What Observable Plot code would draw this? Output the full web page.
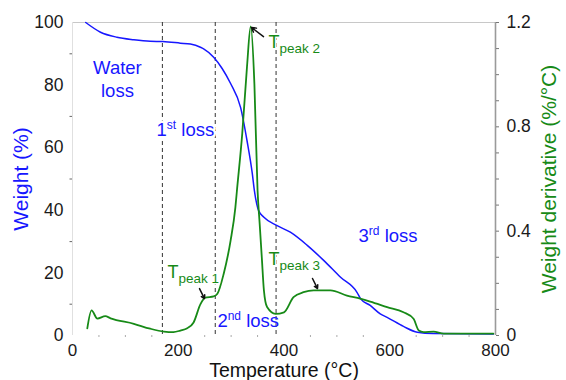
<!DOCTYPE html>
<html>
<head>
<meta charset="utf-8">
<script src="https://cdn.jsdelivr.net/npm/d3@7"></script>
<script src="https://cdn.jsdelivr.net/npm/@observablehq/plot@0.6"></script>
<style>
  html, body { margin: 0; padding: 0; background: #fff; }
</style>
</head>
<body>
<div id="chart"></div>
<script>
// ---- Data (temperature in °C) ----
const weightT   = [25, 53, 84, 116, 147, 171, 204, 223, 242, 248, 267, 283, 299, 318, 330, 340, 344, 352, 362, 387, 412, 444, 475, 507, 538, 545, 563, 582, 595, 626, 652, 682, 796];
const weightPct = [100, 96.9, 95.3, 94.5, 94.0, 93.9, 93.4, 93.1, 92.1, 91.6, 88.9, 85.3, 80.5, 72.8, 62.3, 51.8, 46.3, 39.9, 37.8, 35.1, 33.0, 28.8, 24.0, 18.6, 13.8, 11.7, 9.6, 6.9, 5.8, 2.9, 1.05, 0.6, 0.5];

const derivT   = [28, 36, 47, 62, 72, 116, 147, 173, 191, 204, 217, 229, 242, 251, 267, 274, 286, 299, 308, 311, 321, 330, 337, 344, 350, 354, 358, 362, 368, 384, 400, 418, 437, 456, 488, 519, 544, 563, 595, 626, 645, 655, 664, 683, 702, 796];
const derivVal = [0.027, 0.096, 0.065, 0.074, 0.066, 0.045, 0.026, 0.015, 0.013, 0.019, 0.028, 0.05, 0.12, 0.145, 0.15, 0.16, 0.237, 0.364, 0.49, 0.556, 0.773, 1.03, 1.185, 0.965, 0.556, 0.428, 0.3, 0.173, 0.109, 0.083, 0.089, 0.147, 0.166, 0.173, 0.173, 0.153, 0.141, 0.13, 0.109, 0.089, 0.064, 0.019, 0.013, 0.015, 0.007, 0.007];

// stage boundaries (dashed lines)
const stageT = [170, 270, 385];

// axes
const xTicks        = [0, 200, 400, 600, 800];
const xMinorTicks   = [50, 100, 150, 250, 300, 350, 450, 500, 550, 650, 700, 750];
const weightTicks   = [0, 20, 40, 60, 80, 100];
const weightMinor   = [10, 30, 50, 70, 90];
const derivTicks    = [0, 0.4, 0.8, 1.2];
const derivMinor    = [0, 0.1, 0.2, 0.3, 0.4, 0.5, 0.6, 0.7, 0.8, 0.9, 1.0, 1.1, 1.2];
const derivMax      = 1.2;

// annotations (T in °C, weight-axis value)
const waterLabel  = ["Water\nloss"];
const waterT      = [85];
const waterW      = [76.1];
const lossLabels  = ["1^{st} loss", "2^{nd} loss", "3^{rd} loss"];
const lossT       = [159, 274, 541];
const lossW       = [63.6, 2.6, 29.8];
const peakLabels  = ["T_{peak 1}", "T_{peak 2}", "T_{peak 3}"];
const peakT       = [179.5, 370.5, 370.5];
const peakW       = [18.5, 91.7, 22.4];
const arrowFromT  = [240.2, 361.2, 453.9];
const arrowFromW  = [15.0, 95.5, 18.2];
const arrowToT    = [249.6, 338.5, 463.4];
const arrowToW    = [11.8, 98.4, 15.0];

// ---- build tables ----
const weightData = weightT.map((t, i) => ({T: t, w: weightPct[i]}));
const derivData  = derivT.map((t, i) => ({T: t, d: derivVal[i]}));
const toW = d => d * 100 / derivMax;   // map derivative onto shared y scale
const waterData = waterLabel.map((s, i) => ({s, T: waterT[i], w: waterW[i]}));
const lossData  = lossLabels.map((s, i) => ({s, T: lossT[i], w: lossW[i], halo: i === 0 ? "white" : "none"}));
const peakData  = peakLabels.map((s, i) => ({s, T: peakT[i], w: peakW[i]}));
const arrowData = arrowFromT.map((t, i) => ({x1: t, y1: arrowFromW[i], x2: arrowToT[i], y2: arrowToW[i]}));

const BLUE = "#1717ff";
const GREEN = "#178a17";
const FONT = "'Liberation Sans', Arial, Helvetica, sans-serif";

const chart = Plot.plot({
  width: 566,
  height: 380,
  marginTop: 22,
  marginRight: 71,
  marginBottom: 45,
  marginLeft: 72,
  style: {fontFamily: FONT, fontSize: "17.5px", background: "#fff", color: "#1a1a1a", overflow: "visible"},
  x: {domain: [0, 800]},
  y: {domain: [0, 100]},
  marks: [
    // frame-like lines
    Plot.ruleY([100], {stroke: "#c8c8c8", strokeWidth: 1.2}),
    Plot.ruleX([0], {stroke: "#e0e0e0", strokeWidth: 1}),
    Plot.ruleX([800], {stroke: "#9a9a9a", strokeWidth: 1.6}),
    // axes
    Plot.axisX({ticks: xTicks, tickSize: 0, tickPadding: 8, fontSize: 17, label: null}),
    Plot.axisX({ticks: xMinorTicks, tickSize: 2, tickFormat: () => "", stroke: "#aaa", label: null}),
    Plot.axisY({anchor: "left", ticks: weightTicks, tickSize: 0, tickPadding: 9, label: null}),
    Plot.axisY({anchor: "left", ticks: weightMinor, tickSize: 2.5, tickFormat: () => "", stroke: "#666", label: null}),
    Plot.axisY({anchor: "right", ticks: derivTicks.map(toW), tickSize: 0, tickPadding: 11,
                tickFormat: w => d3.format("~g")(+(w * derivMax / 100).toFixed(2)), label: null}),
    Plot.axisY({anchor: "right", ticks: derivMinor.map(toW), tickSize: 3, tickFormat: () => "", stroke: "#777", label: null}),
    // stage boundaries
    Plot.ruleX(stageT, {stroke: "#333", strokeWidth: 1, strokeDasharray: "4,3"}),
    // curves
    Plot.line(weightData, {x: "T", y: "w", stroke: BLUE, strokeWidth: 1.5, curve: "monotone-x"}),
    Plot.line(derivData, {x: "T", y: d => toW(d.d), stroke: GREEN, strokeWidth: 1.8, curve: "monotone-x"}),
    // annotations
    Plot.text(waterData, {x: "T", y: "w", text: "s", fill: BLUE, fontSize: 18.5,
      textAnchor: "middle", lineAnchor: "bottom", lineHeight: 1.25}),
    Plot.text(lossData, {x: "T", y: "w", text: "s", fill: BLUE, fontSize: 18.5,
      textAnchor: "start", lineAnchor: "bottom", stroke: "halo", strokeWidth: 5}),
    Plot.text(peakData, {x: "T", y: "w", text: "s", fill: GREEN, fontSize: 18, textAnchor: "start",
      lineAnchor: "bottom", stroke: "white", strokeWidth: 3}),
    Plot.arrow(arrowData, {x1: "x1", y1: "y1", x2: "x2", y2: "y2", stroke: "#111", strokeWidth: 1.5, headLength: 6}),
    // axis titles
    Plot.text(["Weight (%)"], {text: d => d, frameAnchor: "left", dx: -51, rotate: -90,
      fill: BLUE, fontSize: 21, textAnchor: "middle", lineAnchor: "middle"}),
    Plot.text(["Weight derivative (%/°C)"], {text: d => d, frameAnchor: "right", dx: 54, rotate: -90,
      fill: GREEN, fontSize: 21, textAnchor: "middle", lineAnchor: "middle"}),
    Plot.text(["Temperature (°C)"], {text: d => d, frameAnchor: "bottom", dy: 41,
      fill: "#111", fontSize: 19.5, textAnchor: "middle", lineAnchor: "bottom"})
  ]
});

// turn ^{..} / _{..} markup into real superscript / subscript tspans
function enrich(svg) {
  const NS = "http://www.w3.org/2000/svg";
  for (const t of svg.querySelectorAll("text")) {
    if (t.querySelector("tspan")) continue;
    const s = t.textContent;
    if (!/[\^_]\{/.test(s)) continue;
    t.textContent = "";
    t.style.whiteSpace = "pre";
    const re = /([\^_])\{([^}]*)\}|([^\^_]+)/g;
    let m, shift = 0;
    while ((m = re.exec(s))) {
      const ts = document.createElementNS(NS, "tspan");
      if (m[1]) {
        const off = m[1] === "^" ? -7 : 5;
        ts.setAttribute("dy", off - shift);
        shift = off;
        ts.setAttribute("font-size", m[1] === "^" ? "12px" : "13.5px");
        ts.textContent = m[2];
      } else {
        ts.setAttribute("dy", -shift);
        shift = 0;
        ts.textContent = m[3];
      }
      t.appendChild(ts);
    }
  }
}
enrich(chart);
document.getElementById("chart").appendChild(chart);
</script>
</body>
</html>
